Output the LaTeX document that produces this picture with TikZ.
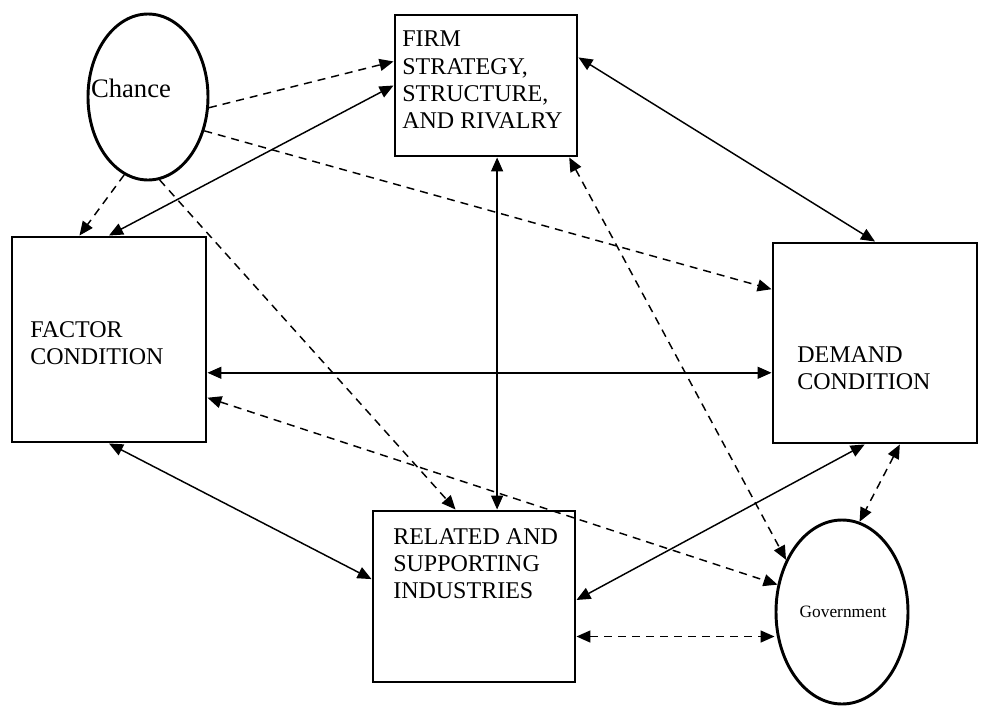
\documentclass[tikz,border=0pt]{standalone}
\usepackage{fontspec}
\setmainfont{Liberation Serif}
\usetikzlibrary{arrows.meta,shapes.geometric,calc}
\begin{document}
\begin{tikzpicture}[x=0.75pt,y=-0.75pt,
  boxnode/.style={draw,line width=2.2pt,rectangle,inner sep=0pt},
  ovalnode/.style={draw,line width=2.2pt,ellipse,inner sep=0pt},
  lbl/.style={font=\fontsize{18}{20.5}\selectfont,align=left,anchor=north west,inner sep=0pt},
  tip/.tip={Triangle[length=10.5pt,width=9pt]},
  conn/.style={line width=1.1pt,tip-tip},
  oneway/.style={line width=1.1pt,-tip},
  dsh/.style={dash pattern=on 6pt off 4.5pt}
]
\useasboundingbox (0,0) rectangle (1000,707);

% nodes
\node[boxnode,minimum width=182*0.75pt,minimum height=141*0.75pt] (firm) at (486,85.5) {};
\node[boxnode,minimum width=194*0.75pt,minimum height=205*0.75pt] (factor) at (109,339.5) {};
\node[boxnode,minimum width=204*0.75pt,minimum height=200*0.75pt] (demand) at (875,343) {};
\node[boxnode,minimum width=202*0.75pt,minimum height=171*0.75pt] (related) at (474,596.5) {};
\node[ovalnode,minimum width=120*0.75pt,minimum height=166*0.75pt] (chance) at (148,97) {};
\node[ovalnode,minimum width=132*0.75pt,minimum height=184*0.75pt] (gov) at (842,612) {};

% labels
\node[lbl] (firmtext) at (402,31) {FIRM\\STRATEGY,\\STRUCTURE,\\AND RIVALRY};
\node[lbl] (factortext) at (30,321) {FACTOR\\CONDITION};
\node[lbl] (demandtext) at (797,346) {DEMAND\\CONDITION};
\node[lbl] (relatedtext) at (393,528) {RELATED AND\\SUPPORTING\\INDUSTRIES};
\node[font=\fontsize{20}{23}\selectfont,inner sep=0pt] (chancetext) at (131,88) {Chance};
\node[font=\fontsize{13}{15}\selectfont,inner sep=0pt] (govtext) at (843,612) {Government};

% connectors from Chance
\draw[oneway,dsh] (chance.-10) -- ($(firm.north west)!0.333!(firm.south west)$);
\draw[oneway,dsh] (chance.-107) -- ($(factor.north west)!0.35!(factor.north east)$);
\draw[oneway,dsh] (chance.-31) -- ($(demand.north west)!0.235!(demand.south west)$);
\draw[oneway,dsh] (chance.-82) -- ($(related.north west)!0.41!(related.north east)$);

% solid two-way connectors
\draw[conn] (firm.west) -- (factor.north);
\draw[conn] ($(firm.north east)!0.305!(firm.south east)$) -- (demand.north);
\coordinate (fr) at ($(firm.south west)!0.56!(firm.south east)$);
\draw[conn] (fr) -- (fr |- related.north);
\coordinate (fd) at ($(factor.north east)!0.66!(factor.south east)$);
\draw[conn] (fd) -- (fd -| demand.west);
\draw[conn] (factor.south) -- ($(related.north west)!0.4!(related.south west)$);
\draw[conn] ($(demand.south west)!0.45!(demand.south east)$) -- ($(related.north east)!0.52!(related.south east)$);

% dashed two-way connectors with Government
\draw[conn,dsh] ($(firm.south west)!0.95!(firm.south east)$) -- (gov.137);
\draw[conn,dsh] ($(factor.north east)!0.78!(factor.south east)$) -- (gov.157);
\draw[conn,dsh] ($(demand.south west)!0.62!(demand.south east)$) -- (gov.79);
\coordinate (rg) at ($(related.north east)!0.73!(related.south east)$);
\draw[conn,dsh] (rg) -- (rg -| gov.west);
\end{tikzpicture}
\end{document}
